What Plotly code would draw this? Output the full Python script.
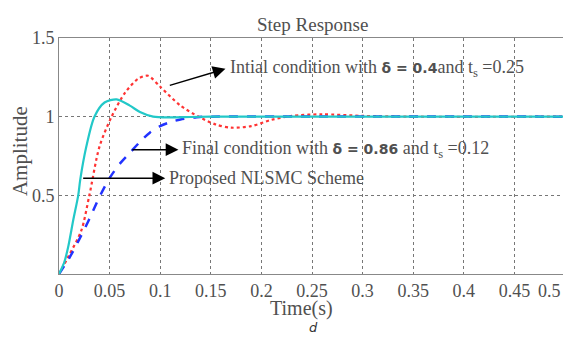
import plotly.graph_objects as go

# Proposed NLSMC scheme (cyan solid)
t_prop = [0, 0.005, 0.009, 0.014, 0.019, 0.021, 0.027, 0.035, 0.045, 0.057, 0.07, 0.08, 0.093, 0.11, 0.13, 0.15, 0.5]
y_prop = [0, 0.07, 0.17, 0.34, 0.5, 0.6, 0.81, 1.0, 1.09, 1.11, 1.07, 1.03, 1.0, 0.995, 0.998, 1.0, 1.0]

# Initial condition delta=0.4 (red dotted)
t_init = [0, 0.01, 0.022, 0.03, 0.04, 0.052, 0.065, 0.078, 0.088, 0.1, 0.12, 0.138, 0.155, 0.17, 0.19, 0.21, 0.23, 0.26, 0.3, 0.35, 0.5]
y_init = [0, 0.12, 0.275, 0.5, 0.81, 1.0, 1.15, 1.24, 1.26, 1.19, 1.07, 1.0, 0.95, 0.93, 0.94, 0.98, 1.005, 1.015, 1.005, 1.0, 1.0]

# Final condition delta=0.86 (blue dashed)
t_final = [0, 0.01, 0.02, 0.03, 0.04, 0.05, 0.06, 0.07, 0.08, 0.09, 0.1, 0.11, 0.12, 0.136, 0.15, 0.5]
y_final = [0, 0.1, 0.22, 0.35, 0.49, 0.61, 0.70, 0.77, 0.84, 0.90, 0.94, 0.965, 0.982, 0.997, 1.0, 1.0]

x_ticks = [0, 0.05, 0.1, 0.15, 0.2, 0.25, 0.3, 0.35, 0.4, 0.45, 0.5]
x_ticktext = ["0", "0.05", "0.1", "0.15", "0.2", "0.25", "0.3", "0.35", "0.4", "0.45", "0.5"]
y_ticks = [0.5, 1, 1.5]
y_ticktext = ["0.5", "1", "1.5"]

SERIF = "Liberation Serif"
GREY = "#505050"

fig = go.Figure()
fig.add_trace(go.Scatter(x=t_init, y=y_init, mode="lines", line=dict(color="#ff3333", width=2.2, dash="dot", shape="spline", smoothing=0.8), showlegend=False))
fig.add_trace(go.Scatter(x=t_final, y=y_final, mode="lines", line=dict(color="#2233ff", width=2.5, dash="dash", shape="spline", smoothing=0.8), showlegend=False))
fig.add_trace(go.Scatter(x=t_prop, y=y_prop, mode="lines", line=dict(color="#22c8c8", width=2.2, shape="spline", smoothing=0.8), showlegend=False))

BOLD = "<span style='font-family:DejaVu Sans;font-size:14px'><b>%s</b></span>"
SUB = "<sub>s</sub>"
arrows = [
    # tail (ax, ay), head (x, y), text
    (0.108, 1.196, 0.1645, 1.304, "Intial condition with " + BOLD % "δ = 0.4" + "and t" + SUB + " =0.25"),
    (0.071, 0.79, 0.118, 0.79, "Final condition with " + BOLD % "δ = 0.86" + " and t" + SUB + " =0.12"),
    (0.0224, 0.609, 0.105, 0.609, "Proposed NLSMC Scheme"),
]
for ax_, ay_, x_, y_, txt in arrows:
    fig.add_annotation(x=x_, y=y_, ax=ax_, ay=ay_, xref="x", yref="y", axref="x", ayref="y",
                       showarrow=True, arrowhead=2, arrowsize=1.7, arrowwidth=1.5, arrowcolor="black", text="")
    fig.add_annotation(x=x_ + 0.002, y=y_, xref="x", yref="y", text=txt, showarrow=False,
                       xanchor="left", yanchor="middle", font=dict(family=SERIF, size=18, color=GREY))

# last x tick label, nudged left so that it stays inside the picture
fig.add_annotation(text=x_ticktext[-1], x=0.996, y=0, xref="paper", yref="paper", showarrow=False,
                   xanchor="right", yanchor="top", yshift=-5, font=dict(family=SERIF, size=18, color=GREY))

# Titles as annotations (paper coords of the plot area)
fig.add_annotation(text="Step Response", x=0.5, y=1.059, xref="paper", yref="paper", showarrow=False,
                   xanchor="center", yanchor="middle", font=dict(family=SERIF, size=19, color=GREY))
fig.add_annotation(text="Time(s)", x=0.480, y=-0.147, xref="paper", yref="paper", showarrow=False,
                   xanchor="center", yanchor="middle", font=dict(family=SERIF, size=20, color=GREY))
fig.add_annotation(text="Amplitude", x=-0.077, y=0.521, xref="paper", yref="paper", showarrow=False,
                   textangle=-90, xanchor="center", yanchor="middle", font=dict(family=SERIF, size=21, color=GREY))
fig.add_annotation(text="<i>d</i>", x=0.502, y=-0.225, xref="paper", yref="paper", showarrow=False,
                   xanchor="center", yanchor="middle", font=dict(family="DejaVu Sans", size=13, color="#333333"))

fig.update_layout(
    width=571, height=343,
    margin=dict(l=51, r=14, t=30, b=77),
    paper_bgcolor="white", plot_bgcolor="white",
    xaxis=dict(range=[0, 0.5], tickvals=x_ticks[:-1], ticktext=x_ticktext[:-1], showgrid=True, automargin=False,
               gridcolor="#777777", griddash="dot", gridwidth=1, zeroline=False,
               showline=True, linecolor="#888888", linewidth=1, mirror=True,
               tickfont=dict(family=SERIF, size=18, color=GREY), ticks=""),
    yaxis=dict(range=[0, 1.5], tickvals=y_ticks, ticktext=y_ticktext, showgrid=True, automargin=False,
               gridcolor="#777777", griddash="dot", gridwidth=1, zeroline=False,
               showline=True, linecolor="#888888", linewidth=1, mirror=True,
               tickfont=dict(family=SERIF, size=18, color=GREY), ticks=""),
)

fig.write_html("out.html")
